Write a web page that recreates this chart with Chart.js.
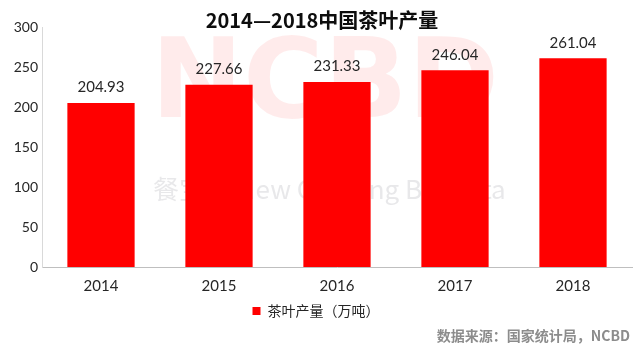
<!DOCTYPE html>
<html>
<head>
<meta charset="utf-8">
<script src="https://cdn.jsdelivr.net/npm/chart.js@4/dist/chart.umd.min.js"></script>
<style>
  html, body { margin: 0; padding: 0; background: #fff; }
  #wrap { width: 640px; height: 355px; position: relative; }
</style>
</head>
<body>
<div id="wrap"><canvas id="chart"></canvas></div>
<script>
const years = ['2014', '2015', '2016', '2017', '2018'];
const output = [204.93, 227.66, 231.33, 246.04, 261.04];
const seriesName = '茶叶产量（万吨）';
const titleText = '2014—2018中国茶叶产量';
const sourceText = '数据来源：国家统计局，NCBD';

const numFont = 'Lato, "Open Sans", sans-serif';
const cjkFont = '"Noto Sans CJK SC", sans-serif';

// watermark behind the bars
const watermark = {
    id: 'watermark',
    beforeDatasetsDraw(c) {
        const ctx = c.ctx;
        ctx.save();
        ctx.fillStyle = 'rgba(255,0,0,0.08)';
        ctx.font = 'bold 110px "DejaVu Sans", sans-serif';
        ctx.textAlign = 'center';
        ctx.textBaseline = 'middle';
        ctx.fillText('NCBD', 325, 88);
        ctx.fillStyle = 'rgba(150,150,160,0.22)';
        ctx.font = '26px ' + cjkFont;
        ctx.textAlign = 'left';
        ctx.fillText('餐宝典 New Catering Big Data', 153, 189);
        ctx.restore();
    }
};

// value labels, title, source note
const extras = {
    id: 'extras',
    afterDatasetsDraw(c) {
        const ctx = c.ctx;
        const meta = c.getDatasetMeta(0);
        ctx.save();
        ctx.fillStyle = '#262626';
        ctx.font = '15px ' + numFont;
        ctx.textAlign = 'center';
        ctx.textBaseline = 'bottom';
        meta.data.forEach((bar, i) => {
            ctx.fillText(output[i].toFixed(2), bar.x, bar.y - 8);
        });
        ctx.font = 'bold 20px ' + cjkFont;
        ctx.textBaseline = 'middle';
        ctx.fillStyle = '#0d0d0d';
        ctx.fillText(titleText, 322, 20);
        ctx.font = 'bold 14px ' + cjkFont;
        ctx.fillStyle = '#8c8c8c';
        ctx.textAlign = 'right';
        ctx.fillText(sourceText, 630, 336);
        ctx.restore();
    }
};

window.onload = () => {
    const ctx = document.getElementById('chart').getContext('2d');
    new Chart(ctx, {
        type: 'bar',
        data: {
            labels: years,
            datasets: [{
                label: seriesName,
                data: output,
                backgroundColor: '#ff0000',
                borderWidth: 0,
                categoryPercentage: 1,
                barPercentage: 0.57
            }]
        },
        options: {
            responsive: true,
            maintainAspectRatio: false,
            animation: false,
            layout: { padding: { top: 27, left: 0, right: 8, bottom: 27 } },
            plugins: {
                legend: {
                    position: 'bottom',
                    labels: {
                        boxWidth: 8, boxHeight: 8,
                        color: '#262626',
                        padding: 3,
                        font: { size: 14, family: cjkFont }
                    }
                },
                tooltip: { enabled: false }
            },
            scales: {
                x: {
                    grid: { display: false, drawTicks: false },
                    border: { color: '#bfbfbf' },
                    afterFit(scale) { scale.height = 34; },
                    ticks: { color: '#262626', padding: 10, font: { size: 15, family: numFont } }
                },
                y: {
                    min: 0, max: 300,
                    grid: { display: false, drawTicks: false },
                    border: { color: '#d9d9d9' },
                    afterFit(scale) { scale.width = 42; },
                    ticks: { stepSize: 50, color: '#262626', padding: 4, font: { size: 14, family: numFont } }
                }
            }
        },
        plugins: [watermark, extras]
    });
};
</script>
</body>
</html>
